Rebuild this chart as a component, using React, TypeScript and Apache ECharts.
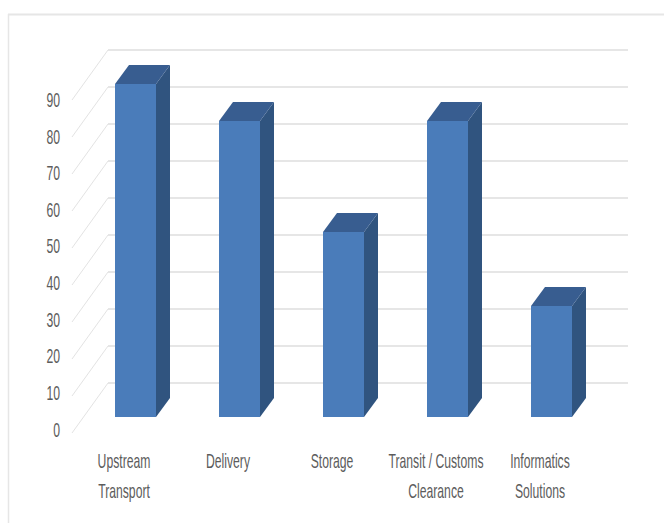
import React, { useEffect, useRef } from "react";
import * as echarts from "echarts";

const categories = [
  "Upstream\nTransport",
  "Delivery",
  "Storage",
  "Transit / Customs\nClearance",
  "Informatics\nSolutions",
];
const values = [90, 80, 50, 80, 30];
const wallTicks = [0, 10, 20, 30, 40, 50, 60, 70, 80, 90];

// Oblique projection of the floor: full depth of the chart box and the slab a column occupies.
const DEPTH = { dx: 36, dy: -50 };
const COLUMN_FRONT = { dx: 11.5, dy: -16 };
const COLUMN_BACK = { dx: 25.5, dy: -35 };
const COLUMN_WIDTH = 41;

// Labels are set in a horizontally squeezed sans, so they are drawn as scaled text elements.
const LABEL_STYLE = {
  fill: "#5c5c5c",
  fontFamily: "'Liberation Sans', sans-serif",
  fontSize: 20,
};
const LABEL_SCALE_X = 0.61;
// Tick labels run on a slightly tighter pitch than the wall lines.
const TICK_LABEL_PITCH = 0.99;

function renderWall(params: any, api: any) {
  const cs = params.coordSys;
  const tick = api.value(0);
  const y = api.coord([0, tick])[1];
  const floorY = api.coord([0, 0])[1];
  const x0 = cs.x;
  const backX = x0 + DEPTH.dx;
  const backY = y + DEPTH.dy;
  return {
    type: "group",
    children: [
      {
        type: "line",
        shape: { x1: x0, y1: y, x2: backX, y2: backY },
        style: { stroke: "#e3e3e3", lineWidth: 1 },
      },
      {
        type: "line",
        shape: { x1: backX, y1: backY, x2: cs.x + cs.width + DEPTH.dx, y2: backY },
        style: { stroke: "#e6e6e6", lineWidth: 2 },
      },
      {
        type: "text",
        x: x0 - 12,
        y: floorY - 3 + (y - floorY) * TICK_LABEL_PITCH,
        scaleX: LABEL_SCALE_X,
        style: { ...LABEL_STYLE, text: String(tick), align: "right", verticalAlign: "middle" },
      },
    ],
  };
}

function renderColumn(_params: any, api: any) {
  const index = api.value(0);
  const slotCenter = api.coord([index, 0])[0];
  const y0 = api.coord([0, 0])[1];
  const yV = api.coord([0, api.value(1)])[1];
  const l = slotCenter - COLUMN_WIDTH / 2 + COLUMN_FRONT.dx;
  const r = l + COLUMN_WIDTH;
  const bottom = y0 + COLUMN_FRONT.dy;
  const top = yV + COLUMN_FRONT.dy;
  const ox = COLUMN_BACK.dx - COLUMN_FRONT.dx;
  const oy = COLUMN_BACK.dy - COLUMN_FRONT.dy;
  return {
    type: "group",
    children: [
      {
        type: "polygon",
        shape: { points: [[r, top], [r + ox, top + oy], [r + ox, bottom + oy], [r, bottom]] },
        style: { fill: "#30547f" },
      },
      {
        type: "polygon",
        shape: { points: [[l, top], [r, top], [r + ox, top + oy], [l + ox, top + oy]] },
        style: { fill: "#385d90" },
      },
      {
        type: "rect",
        shape: { x: l, y: top, width: COLUMN_WIDTH, height: bottom - top },
        style: { fill: "#4a7cba" },
      },
      {
        type: "text",
        x: slotCenter,
        y: y0 + 13,
        scaleX: LABEL_SCALE_X,
        style: {
          ...LABEL_STYLE,
          text: categories[index],
          align: "center",
          verticalAlign: "top",
          lineHeight: 30,
        },
      },
    ],
  };
}

export default function App() {
  const ref = useRef<HTMLDivElement>(null);

  useEffect(() => {
    if (!ref.current) return;
    const chart = echarts.init(ref.current, undefined, { renderer: "svg" });
    chart.setOption({
      animation: false,
      backgroundColor: "#ffffff",
      grid: { left: 72, width: 520, top: 100, height: 333 },
      graphic: [
        { type: "line", shape: { x1: 8, y1: 14.5, x2: 664, y2: 14.5 }, style: { stroke: "#e6e6e6", lineWidth: 2 } },
        { type: "line", shape: { x1: 8.5, y1: 14, x2: 8.5, y2: 523 }, style: { stroke: "#e6e6e6", lineWidth: 1.5 } },
      ],
      xAxis: {
        type: "category",
        data: categories,
        axisLine: { show: false },
        axisTick: { show: false },
        splitLine: { show: false },
        axisLabel: { show: false },
      },
      yAxis: {
        type: "value",
        min: 0,
        max: 90,
        interval: 10,
        axisLine: { show: false },
        axisTick: { show: false },
        splitLine: { show: false },
        axisLabel: { show: false },
      },
      series: [
        {
          type: "custom",
          renderItem: renderWall,
          data: wallTicks.map((t) => [t]),
          encode: { y: 0 },
          silent: true,
          z: 1,
        },
        {
          type: "custom",
          renderItem: renderColumn,
          data: values.map((v, i) => [i, v]),
          encode: { x: 0, y: 1 },
          silent: true,
          z: 2,
        },
      ],
    });
    return () => chart.dispose();
  }, []);

  return (
    <div
      ref={ref}
      style={{ position: "fixed", left: 0, top: 0, width: 664, height: 523 }}
    />
  );
}
